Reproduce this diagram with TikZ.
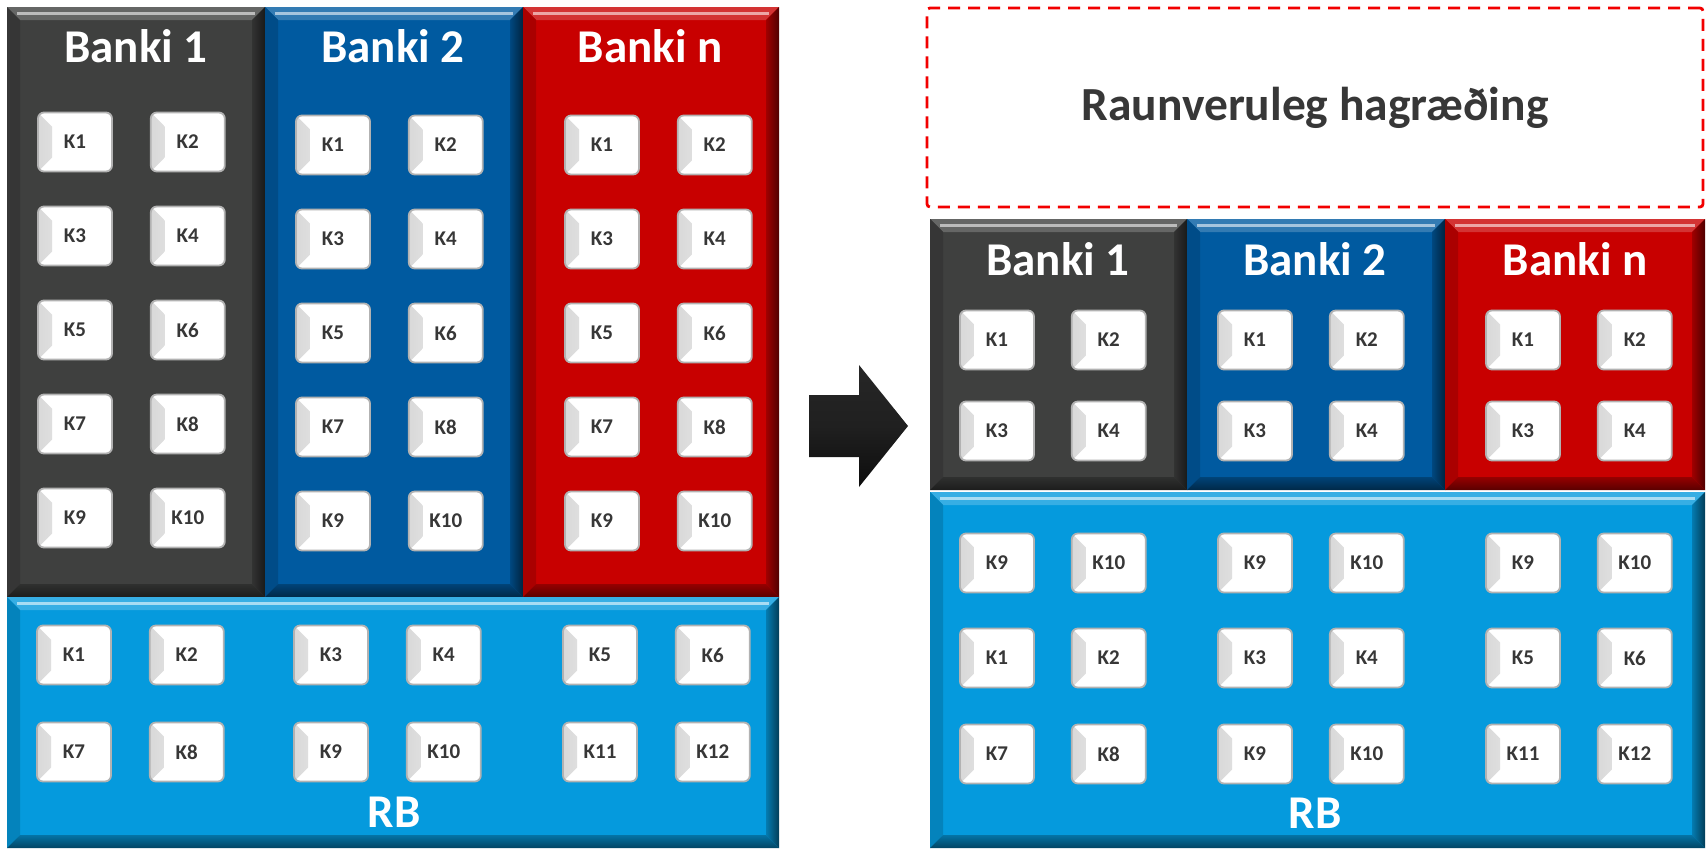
\documentclass[tikz,border=0pt]{standalone}
\usepackage{fontspec}
\setmainfont{Carlito}
\usetikzlibrary{positioning}

\definecolor{dgrey}{RGB}{63,64,63}
\definecolor{mblue}{RGB}{0,90,160}
\definecolor{bred}{RGB}{200,0,0}
\definecolor{lblue}{RGB}{5,154,221}
\definecolor{ktext}{RGB}{55,55,55}

% bevelled panel: x1,y1,x2,y2,colour
\newcommand{\bevelbox}[5]{%
  \fill[#5] (#1,#2) rectangle (#3,#4);
  \fill[#5!80!white] (#1,#2) -- (#3,#2) -- (#3-13,#2+13) -- (#1+13,#2+13) -- cycle;
  \draw[#5!35!white, line width=3pt] (#1+10,#2+6) -- (#3-10,#2+6);
  \fill[#5!85!black] (#1,#2) -- (#1+13,#2+13) -- (#1+13,#4-13) -- (#1,#4) -- cycle;
  \shade[left color=#5!80!black, right color=#5!40!black] (#3,#2) -- (#3,#4) -- (#3-13,#4-13) -- (#3-13,#2+13) -- cycle;
  \shade[top color=#5!75!black, bottom color=#5!45!black] (#1,#4) -- (#3,#4) -- (#3-13,#4-13) -- (#1+13,#4-13) -- cycle;
}

\begin{document}
\begin{tikzpicture}[x=1pt,y=-1pt,
  key/.style={draw=gray!60, line width=1.8pt, fill=white, rounded corners=6pt,
    minimum width=74pt, minimum height=59pt, inner sep=0pt, text=ktext,
    font=\fontsize{21}{21}\selectfont\bfseries,
    path picture={\shade[sharp corners, left color=gray!30, right color=gray!6]
      (path picture bounding box.north west) -- ++(14pt,-14pt)
      -- ([shift={(14pt,14pt)}]path picture bounding box.south west)
      -- (path picture bounding box.south west) -- cycle;}},
  title/.style={text=white, font=\fontsize{47}{47}\selectfont\bfseries},
  dashbox/.style={draw=red!95!black, line width=2.8pt, dash pattern=on 12pt off 8pt,
    rounded corners=3pt, text=ktext, font=\fontsize{47.5}{47.5}\selectfont\bfseries}]
\useasboundingbox (0,0) rectangle (1708,849);

% left side
\bevelbox{7}{7}{265}{597}{dgrey}
\bevelbox{265}{7}{523}{597}{mblue}
\bevelbox{523}{7}{779}{597}{bred}
\bevelbox{7}{597}{779}{848}{lblue}

\node[title] (la) at (136,46) {Banki 1};
\node[title] (lb) at (393,46) {Banki 2};
\node[title] (lc) at (650,46) {Banki n};
\node[title] (lrb) at (394,812) {RB};

\foreach \nm/\cx/\cy in {a/75/142, b/333/145, c/602/145}{
  \foreach \r in {1,...,5}{
    \pgfmathtruncatemacro{\ka}{2*\r-1}
    \pgfmathtruncatemacro{\kb}{2*\r}
    \node[key] (L\nm\ka) at (\cx,\cy+94*\r-94) {K\ka};
    \node[key, right=37pt of L\nm\ka] (L\nm\kb) {K\kb};
  }
}
\foreach \i/\cx in {0/74, 1/331, 2/600}{
  \pgfmathtruncatemacro{\ka}{2*\i+1}
  \pgfmathtruncatemacro{\kb}{2*\i+2}
  \pgfmathtruncatemacro{\kc}{2*\i+7}
  \pgfmathtruncatemacro{\kd}{2*\i+8}
  \node[key] (LR\ka) at (\cx,655) {K\ka};
  \node[key, right=37pt of LR\ka] (LR\kb) {K\kb};
  \node[key] (LR\kc) at (\cx,752) {K\kc};
  \node[key, right=37pt of LR\kc] (LR\kd) {K\kd};
}

% arrow
\shade[top color=gray!30!black, bottom color=gray!10!black, middle color=gray!25!black]
  (809,395) -- (859,395) -- (859,365) -- (908,426) -- (859,487) -- (859,457) -- (809,457) -- cycle;

% right side
\node[dashbox, minimum width=776pt, minimum height=199pt] (hag) at (1315,107.5) {Raunveruleg hagræðing};

\bevelbox{930}{219}{1187}{490}{dgrey}
\bevelbox{1187}{219}{1445}{490}{mblue}
\bevelbox{1445}{219}{1705}{490}{bred}
\bevelbox{930}{492}{1705}{848}{lblue}

\node[title] (ra) at (1058,259) {Banki 1};
\node[title] (rb) at (1315,259) {Banki 2};
\node[title] (rc) at (1575,259) {Banki n};
\node[title] (rrb) at (1315,813) {RB};

\foreach \nm/\cx in {a/997, b/1255, c/1523}{
  \node[key] (R\nm1) at (\cx,340) {K1};
  \node[key, right=36pt of R\nm1] (R\nm2) {K2};
  \node[key] (R\nm3) at (\cx,431) {K3};
  \node[key, right=36pt of R\nm3] (R\nm4) {K4};
}
\foreach \i/\cx in {0/997, 1/1255, 2/1523}{
  \pgfmathtruncatemacro{\ka}{2*\i+1}
  \pgfmathtruncatemacro{\kb}{2*\i+2}
  \pgfmathtruncatemacro{\kc}{2*\i+7}
  \pgfmathtruncatemacro{\kd}{2*\i+8}
  \node[key] (RT\i a) at (\cx,563) {K9};
  \node[key, right=36pt of RT\i a] (RT\i b) {K10};
  \node[key] (RR\ka) at (\cx,658) {K\ka};
  \node[key, right=36pt of RR\ka] (RR\kb) {K\kb};
  \node[key] (RR\kc) at (\cx,754) {K\kc};
  \node[key, right=36pt of RR\kc] (RR\kd) {K\kd};
}
\end{tikzpicture}
\end{document}
